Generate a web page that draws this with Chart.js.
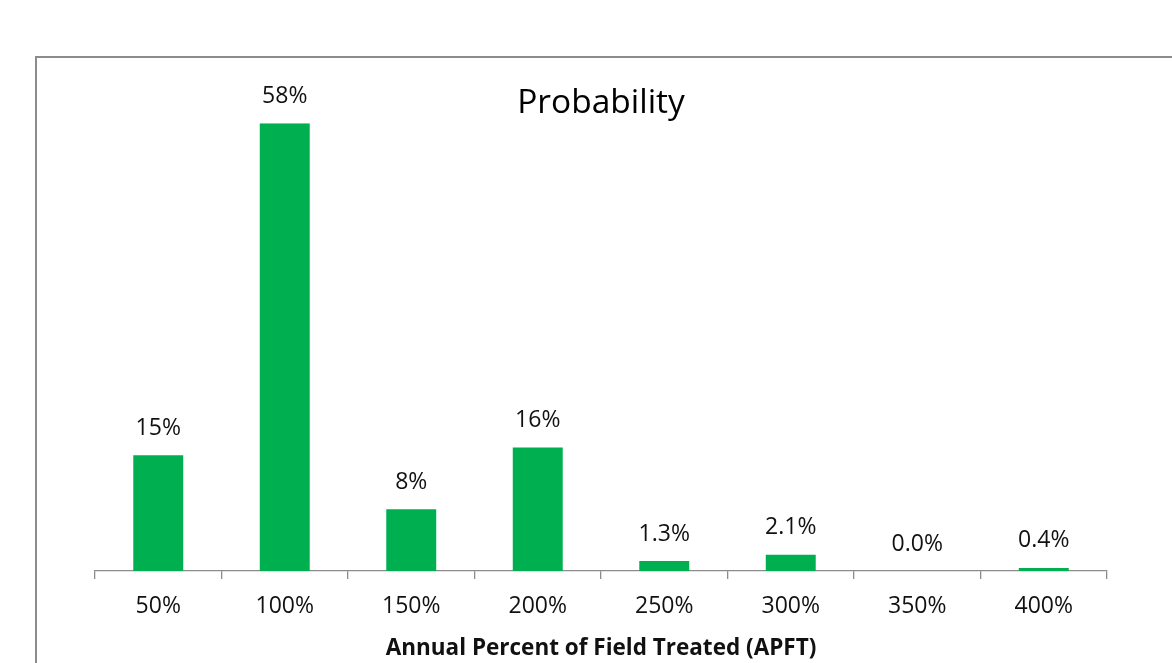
<!DOCTYPE html>
<html>
<head>
<meta charset="utf-8">
<script src="https://cdn.jsdelivr.net/npm/chart.js@4/dist/chart.umd.min.js"></script>
<style>
  html, body { margin: 0; padding: 0; background: #fff; overflow: hidden; }
  #frame {
    position: absolute; left: 35px; top: 56px; width: 1200px; height: 700px;
    border-left: 2px solid #8c8c8c; border-top: 2px solid #8c8c8c;
  }
  #wrap { position: absolute; left: 0; top: 0; width: 1172px; height: 663px; }
</style>
</head>
<body>
<div id="frame"></div>
<div id="wrap"><canvas id="c" width="1172" height="663"></canvas></div>
<script>
// Annual percent of field treated (category) and its probability in percent
const categories = ['50%', '100%', '150%', '200%', '250%', '300%', '350%', '400%'];
const probability = [15, 58, 8, 16, 1.3, 2.1, 0.0, 0.4];
const chartTitle = 'Probability';
const axisTitle = 'Annual Percent of Field Treated (APFT)';

const FONT = "'Open Sans', 'Liberation Sans', sans-serif";
const BAR_GREEN = '#00B050';
const AXIS_GREY = '#8c8c8c';

function formatPct(v) {
  return (v >= 5 ? v.toFixed(0) : v.toFixed(1)) + '%';
}

// Writes each bar's value above it
const valueLabels = {
  id: 'valueLabels',
  afterDatasetsDraw(chart) {
    const ctx = chart.ctx;
    const meta = chart.getDatasetMeta(0);
    ctx.save();
    ctx.font = '23px ' + FONT;
    ctx.fillStyle = '#111';
    ctx.textAlign = 'center';
    ctx.textBaseline = 'middle';
    meta.data.forEach((bar, i) => {
      ctx.fillText(formatPct(probability[i]), bar.x, bar.y - 27);
    });
    ctx.restore();
  }
};

new Chart(document.getElementById('c'), {
  type: 'bar',
  data: {
    labels: categories,
    datasets: [{
      data: probability,
      backgroundColor: BAR_GREEN,
      borderWidth: 0,
      categoryPercentage: 1,
      barPercentage: 0.395
    }]
  },
  options: {
    responsive: false,
    animation: false,
    layout: { padding: { left: 95, right: 65, top: 0, bottom: 0.7 } },
    plugins: {
      legend: { display: false },
      tooltip: { enabled: false },
      title: {
        display: true,
        text: chartTitle,
        color: '#000',
        font: { family: FONT, size: 33.5, weight: 'normal' },
        padding: { top: 83, bottom: 0 }
      }
    },
    scales: {
      y: { display: false, min: 0, max: 58 },
      x: {
        grid: {
          offset: true,
          drawOnChartArea: false,
          drawTicks: true,
          tickLength: 8,
          color: AXIS_GREY,
          lineWidth: 1.3
        },
        border: { display: true, color: AXIS_GREY, width: 1.3 },
        ticks: {
          color: '#111',
          font: { family: FONT, size: 23 },
          padding: 14,
          autoSkip: false,
          maxRotation: 0
        },
        title: {
          display: true,
          text: axisTitle,
          color: '#111',
          font: { family: FONT, size: 22.5, weight: 'bold' },
          padding: { top: 0.7, bottom: 0 }
        }
      }
    }
  },
  plugins: [valueLabels]
});
</script>
</body>
</html>
